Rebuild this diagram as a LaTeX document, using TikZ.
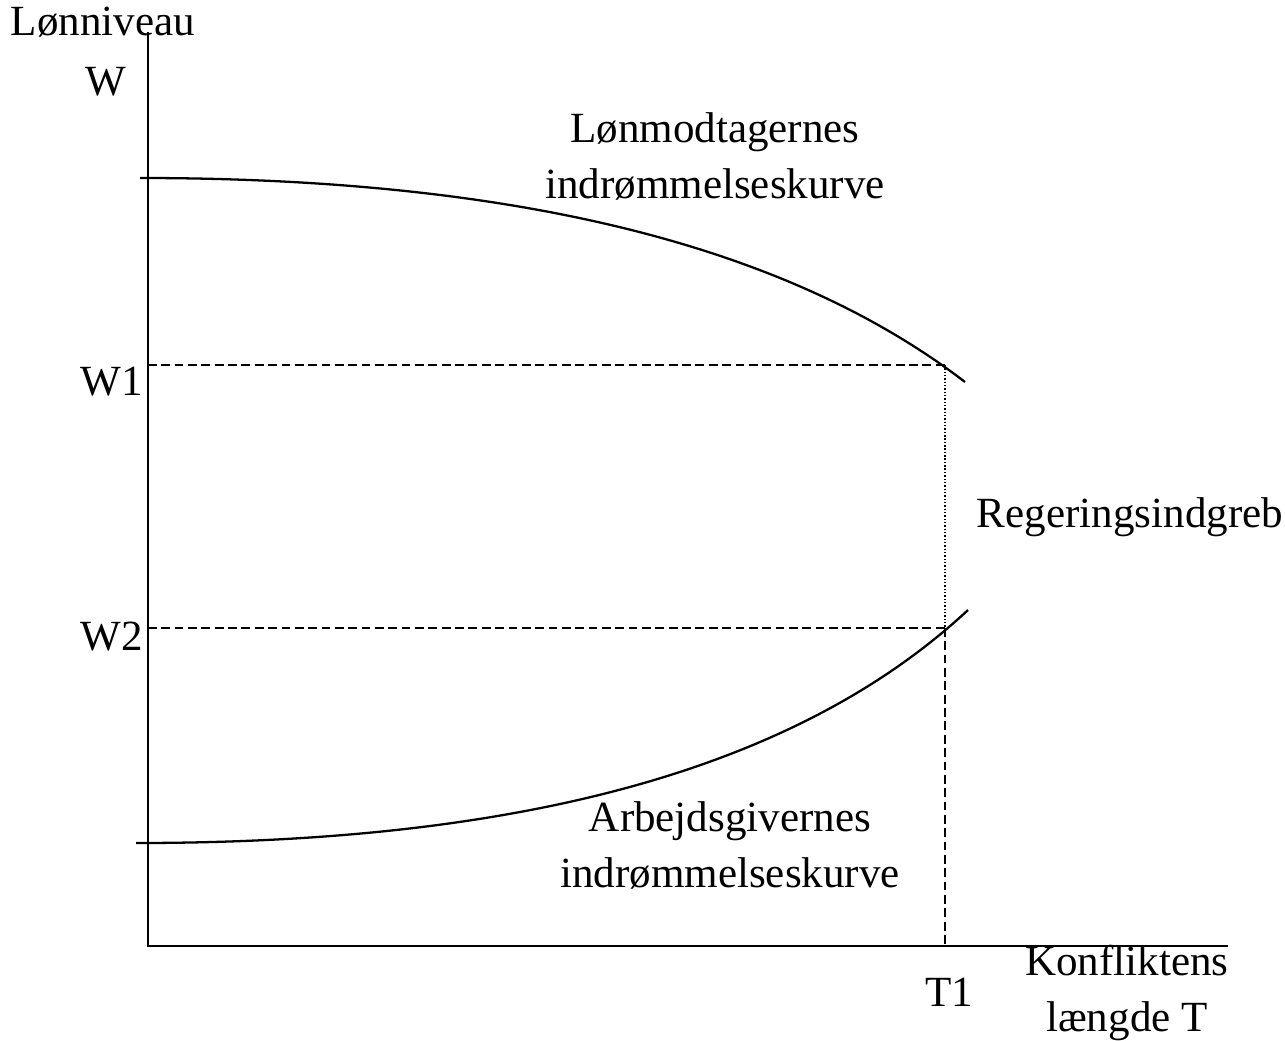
\documentclass[tikz,border=0pt]{standalone}
\usepackage{fontspec}
\setmainfont{Liberation Serif}
\tikzset{
  lbl/.style={font=\fontsize{24.5}{31.5}\selectfont, inner sep=0pt, anchor=base, align=center},
  akse/.style={line width=1.3pt},
  kurve/.style={line width=1.3pt},
  hjaelp/.style={line width=1pt, dash pattern=on 5pt off 2.6pt},
  prik/.style={line width=0.8pt, dash pattern=on 0.8pt off 1.1pt},
}
\begin{document}
\begin{tikzpicture}[x=0.02cm, y=-0.02cm]
\useasboundingbox (0,0) rectangle (1285,1041);
%
\coordinate (O) at (148,946);
\coordinate (ytop) at (148,32);
\coordinate (xend) at (1228,946);
\draw[akse] (ytop) -- (O) -- (xend);
%
\coordinate (lstart) at (140,178);
\coordinate (lslut) at (965,382);
\draw[kurve] (lstart) .. controls (500,178) and (780,240) .. (lslut);
\coordinate (astart) at (136,843);
\coordinate (aslut) at (968,610);
\draw[kurve] (astart) .. controls (480,843) and (780,785) .. (aslut);
%
\coordinate (w1) at (148,365);
\coordinate (w2) at (148,628);
\coordinate (p1) at (945,365);
\coordinate (p2) at (945,628);
\coordinate (t1) at (945,946);
\draw[hjaelp] (w1) -- (p1);
\draw[hjaelp] (w2) -- (p2);
\draw[prik] (p1) -- (p2);
\draw[hjaelp] (p2) -- (t1);
%
\node[lbl] (ylbl) at (103,35) {Lønniveau};
\node[lbl] (W) at (106,95) {W};
\node[lbl] (W1) at (112,395) {W1};
\node[lbl] (W2) at (112,650) {W2};
\node[lbl] (T1) at (949,1006) {T1};
\node[lbl] (xlbl) at (1127,1031) {Konfliktens\\længde T};
\node[lbl] (lkurve) at (715,198) {Lønmodtagernes\\indrømmelseskurve};
\node[lbl] (akurve) at (730,887) {Arbejdsgivernes\\indrømmelseskurve};
\node[lbl] (reg) at (1130,527) {Regeringsindgreb};
\end{tikzpicture}
\end{document}
